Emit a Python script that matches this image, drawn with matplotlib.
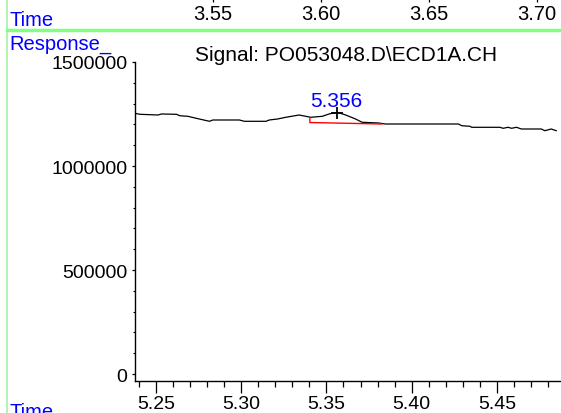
import matplotlib
matplotlib.use("Agg")
import matplotlib.pyplot as plt
from matplotlib.lines import Line2D
from matplotlib.ticker import FixedLocator, MultipleLocator

plt.rcParams['font.family'] = ['Liberation Sans', 'DejaVu Sans']

# ---- data ----
time = [5.2377, 5.2407, 5.2513, 5.2533, 5.2621, 5.2640, 5.2688, 5.2737, 5.2815,
        5.2834, 5.2990, 5.3019, 5.3146, 5.3165, 5.3214, 5.3262, 5.3340, 5.3379,
        5.3408, 5.3476, 5.3515, 5.3564, 5.3613, 5.3671, 5.3709, 5.3807, 5.3846,
        5.4001, 5.4274, 5.4293, 5.4342, 5.4351, 5.4517, 5.4536, 5.4565, 5.4585,
        5.4614, 5.4643, 5.4760, 5.4780, 5.4818, 5.4847]
response = [1253400, 1248600, 1245200, 1250000, 1248600, 1241800, 1238900, 1229300,
            1214900, 1221200, 1221200, 1214900, 1214900, 1221200, 1226000, 1234200,
            1245200, 1238900, 1234200, 1238900, 1250000, 1258200, 1245200, 1226000,
            1210200, 1206700, 1201900, 1201900, 1201900, 1193700, 1190900, 1186100,
            1186100, 1181300, 1186100, 1181300, 1186100, 1177900, 1177900, 1169700,
            1177900, 1169700]

baseline_time = [5.3403, 5.3403, 5.3825]
baseline_resp = [1231000, 1209000, 1202000]

peak_time = 5.356
peak_resp = 1257000
peak_label = "5.356"

x_major = [5.25, 5.30, 5.35, 5.40, 5.45]
x_labels = ["5.25", "5.30", "5.35", "5.40", "5.45"]
y_major = [0, 500000, 1000000, 1500000]
y_labels = ["0", "500000", "1000000", "1500000"]

top_ticks = [3.55, 3.60, 3.65, 3.70]
top_labels = ["3.55", "3.60", "3.65", "3.70"]

title = "Signal: PO053048.D\\ECD1A.CH"

# ---- figure ----
W, H = 561, 414
fig = plt.figure(figsize=(W / 100, H / 100), dpi=100)
fig.patch.set_facecolor('white')

def fx(px):
    return px / W

def fy(py):
    return 1 - py / H

ax = fig.add_axes([fx(135), fy(382), fx(561) - fx(135), fy(63) - fy(382)])
ax.set_xlim(5.2378, 5.4875)
ax.set_ylim(-33650, 1500000)
for s in ('top', 'right'):
    ax.spines[s].set_visible(False)
for s in ('left', 'bottom'):
    ax.spines[s].set_linewidth(1.0)
    ax.spines[s].set_color('black')

ax.plot(time, response, color='black', lw=0.9)
ax.plot(baseline_time, baseline_resp, color='red', lw=1.0)
ax.plot([peak_time], [peak_resp], marker='+', ms=9, mew=1.3, color='black', ls='none')
ax.annotate(peak_label, (peak_time, peak_resp), xytext=(0, 5), textcoords='offset points',
            ha='center', va='baseline', color='#0000ff', fontsize=15)

ax.xaxis.set_major_locator(FixedLocator(x_major))
ax.set_xticklabels(x_labels)
ax.xaxis.set_minor_locator(MultipleLocator(0.01))
ax.yaxis.set_major_locator(FixedLocator(y_major))
ax.set_yticklabels(y_labels)
ax.yaxis.set_minor_locator(MultipleLocator(100000))

ax.tick_params(axis='x', which='major', direction='out', length=8.4, width=0.9,
               labelsize=14, pad=1.5, colors='black')
ax.tick_params(axis='x', which='minor', direction='out', length=4.3, width=0.9)
ax.tick_params(axis='y', which='major', direction='out', length=2.5, width=0.9,
               labelsize=14, pad=3, colors='black')
ax.tick_params(axis='y', which='minor', direction='out', length=1.6, width=0.8)

# top strip axis (previous panel's time axis, mostly cut off)
axt = fig.add_axes([0, 1 + 1 / H, 1, 0.01])
axt.set_xlim(3.4513, 3.7113)
axt.set_ylim(0, 1)
for s in ('top', 'right', 'left'):
    axt.spines[s].set_visible(False)
axt.spines['bottom'].set_visible(False)
axt.set_yticks([])
axt.xaxis.set_major_locator(FixedLocator(top_ticks))
axt.set_xticklabels(top_labels)
axt.tick_params(axis='x', direction='out', length=3, width=0.9, labelsize=14.5, pad=1)
axt.patch.set_visible(False)

# green frame lines
fig.add_artist(Line2D([fx(7), fx(7)], [0, 1], color='#a8f0a8', lw=1.2))
fig.add_artist(Line2D([fx(7), 1], [fy(31), fy(31)], color='#80ff80', lw=2.5))

# texts
fig.text(fx(9), fy(25.7), "Time", color='#0000ff', fontsize=14.5, va='baseline', ha='left')
fig.text(fx(9), fy(50), "Response_", color='#0000ff', fontsize=14.5, va='baseline', ha='left')
fig.text(fx(9), fy(418.5), "Time", color='#0000ff', fontsize=14.5, va='baseline', ha='left')
fig.text(fx(346.5), fy(61), title, color='black', fontsize=15, va='baseline', ha='center')

fig.savefig("out.png", dpi=100)
